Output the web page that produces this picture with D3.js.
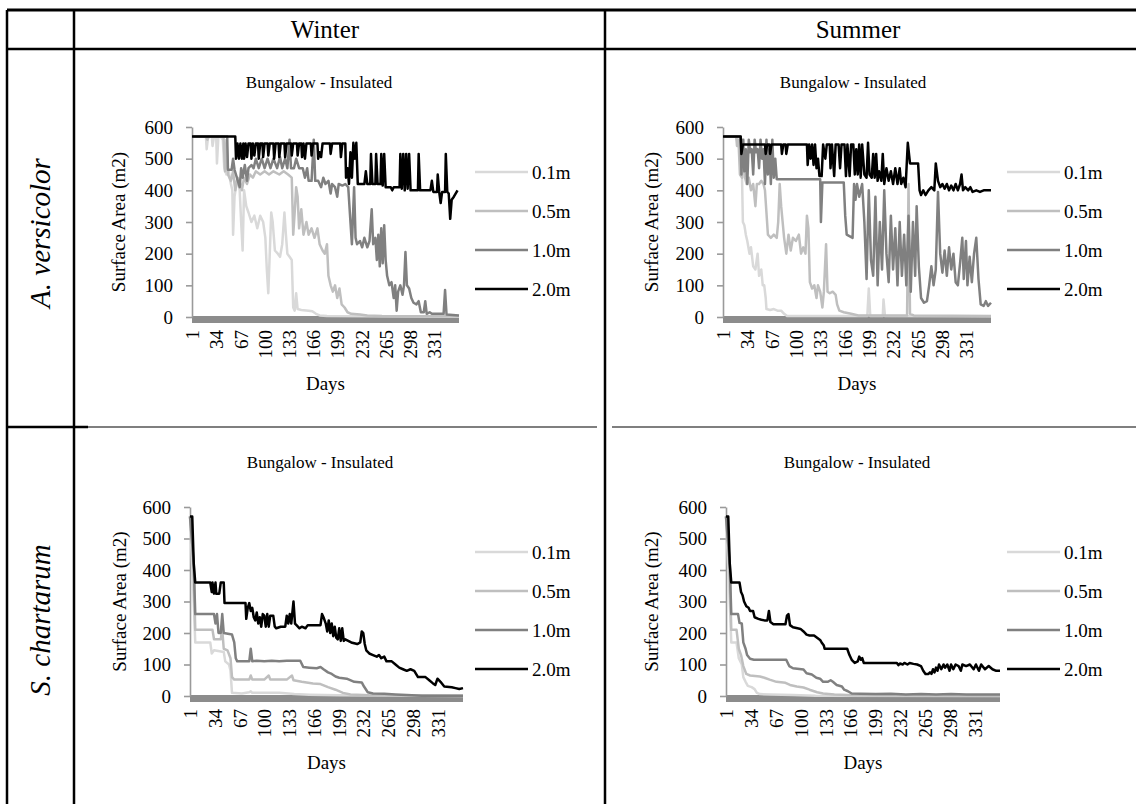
<!DOCTYPE html>
<html>
<head>
<meta charset="utf-8">
<script src="https://cdn.jsdelivr.net/npm/d3@7/dist/d3.min.js"></script>
<style>
  body { margin: 0; background: #fff; }
  svg { display: block; }
</style>
</head>
<body>
<div id="chart"></div>
<script>
// ---------------- data ----------------
const seasons = ["Winter", "Summer"];
const species = ["A. versicolor", "S. chartarum"];
const depths = ["0.1m", "0.5m", "1.0m", "2.0m"];
const chartTitle = "Bungalow - Insulated";
const yTicks = [0, 100, 200, 300, 400, 500, 600];
const dayTicks = [1, 34, 67, 100, 133, 166, 199, 232, 265, 298, 331];
const dayCount = 365;

// [day, surface area m2]
const winterVersicolor01 = [[1,570],[20,570],[21,530],[23,570],[28,570],[29,540],[31,570],[34,570],[35,485],[37,570],[40,570],[43,560],[45,470],[48,450],[51,460],[54,420],[56,400],[57,260],[59,380],[63,440],[66,400],[68,300],[70,210],[72,400],[75,350],[78,330],[82,300],[86,320],[90,280],[94,320],[98,300],[101,250],[103,150],[105,75],[107,200],[109,330],[111,300],[114,210],[118,200],[121,190],[124,230],[127,330],[129,260],[131,200],[134,190],[137,180],[139,30],[141,20],[143,75],[145,25],[150,22],[160,20],[165,18],[170,10],[175,5],[185,3],[365,1]];
const winterVersicolor05 = [[1,570],[20,570],[22,560],[24,570],[44,570],[46,460],[48,560],[50,450],[54,430],[57,460],[60,400],[63,440],[66,430],[69,400],[72,440],[76,420],[80,450],[84,440],[88,460],[94,450],[100,460],[106,450],[112,460],[120,450],[126,460],[132,450],[137,440],[139,260],[141,330],[143,410],[145,380],[147,280],[150,340],[153,260],[157,300],[160,260],[164,280],[168,250],[172,280],[175,230],[179,210],[182,200],[185,230],[187,130],[190,100],[193,80],[196,100],[199,60],[202,90],[205,40],[209,30],[213,15],[218,10],[230,8],[240,5],[260,3],[365,2]];
const winterVersicolor10 = [[1,570],[49,570],[50,465],[55,465],[57,500],[59,465],[66,410],[68,470],[70,440],[73,480],[76,430],[78,470],[82,480],[85,470],[88,500],[92,470],[96,500],[100,470],[104,500],[108,470],[112,500],[117,470],[121,505],[124,470],[128,500],[131,470],[134,560],[136,470],[140,470],[143,500],[147,470],[152,470],[155,440],[158,470],[160,430],[164,430],[167,560],[169,430],[173,430],[177,410],[180,440],[183,420],[187,430],[190,390],[192,420],[196,410],[199,380],[201,420],[206,415],[210,420],[214,410],[217,300],[219,230],[222,410],[224,250],[226,230],[230,240],[233,220],[236,250],[240,220],[243,240],[246,340],[248,230],[251,250],[253,180],[255,260],[257,160],[259,280],[261,170],[263,290],[265,180],[267,130],[270,100],[273,110],[276,60],[278,100],[280,20],[282,80],[285,100],[288,70],[290,100],[292,205],[294,100],[297,90],[300,60],[303,45],[307,40],[310,50],[313,15],[317,15],[319,50],[321,10],[325,15],[328,10],[344,10],[346,85],[348,8],[365,5]];
const winterVersicolor20 = [[1,570],[60,570],[61,500],[63,548],[65,500],[67,548],[69,500],[71,548],[72,500],[74,548],[76,505],[78,548],[81,548],[82,500],[84,548],[86,510],[88,548],[91,548],[92,500],[94,548],[97,548],[98,505],[100,548],[104,548],[105,510],[107,548],[112,548],[113,500],[115,548],[119,548],[120,505],[122,548],[127,548],[128,505],[130,548],[136,548],[137,510],[139,548],[144,548],[145,510],[147,548],[150,548],[151,505],[153,548],[155,500],[157,548],[163,548],[164,510],[166,548],[172,548],[173,500],[175,520],[177,505],[179,548],[189,548],[190,515],[192,548],[203,548],[204,505],[206,548],[210,548],[211,440],[213,470],[215,420],[217,520],[219,440],[221,550],[223,500],[225,550],[227,420],[236,420],[238,460],[240,420],[244,420],[245,515],[247,420],[251,420],[252,515],[254,420],[258,420],[259,515],[261,415],[263,515],[265,410],[272,410],[274,400],[276,410],[284,410],[285,515],[287,405],[289,515],[291,400],[293,515],[295,405],[297,515],[299,400],[309,400],[310,515],[312,400],[326,400],[328,430],[330,395],[335,395],[336,450],[338,395],[340,360],[342,395],[346,395],[347,515],[349,395],[351,390],[353,310],[355,370],[358,380],[363,400]];

const summerVersicolor01 = [[1,570],[19,570],[21,545],[23,560],[26,540],[28,300],[30,290],[32,260],[34,240],[37,200],[39,220],[42,160],[45,150],[48,200],[50,130],[53,150],[55,100],[57,100],[59,60],[60,25],[65,22],[70,25],[75,20],[80,20],[84,10],[88,3],[197,3],[199,90],[201,3],[218,3],[219,55],[221,3],[365,2]];
const summerVersicolor05 = [[1,570],[19,570],[20,540],[22,560],[24,450],[27,440],[29,560],[31,440],[33,420],[36,440],[39,400],[42,420],[45,350],[47,420],[50,420],[53,430],[56,420],[58,400],[60,330],[62,260],[66,250],[70,260],[74,250],[76,300],[78,420],[80,350],[82,300],[84,250],[87,200],[90,260],[93,210],[96,250],[100,240],[104,260],[107,200],[110,220],[113,200],[115,320],[117,280],[119,110],[122,90],[125,100],[128,60],[130,100],[133,80],[136,30],[138,80],[141,230],[143,80],[146,75],[150,80],[154,70],[156,40],[159,20],[165,15],[175,10],[185,5],[251,5],[253,420],[255,10],[260,5],[365,3]];
const summerVersicolor10 = [[1,570],[25,570],[26,450],[28,560],[30,460],[32,530],[34,420],[36,560],[38,520],[40,530],[42,450],[44,560],[46,520],[48,530],[50,470],[52,560],[54,500],[56,530],[58,420],[60,560],[62,450],[64,530],[66,420],[68,560],[70,440],[72,500],[74,435],[133,435],[134,300],[136,425],[165,425],[167,320],[169,260],[177,250],[179,420],[181,370],[183,420],[186,380],[190,420],[193,300],[196,120],[199,400],[202,180],[205,130],[208,380],[211,100],[214,300],[217,150],[220,400],[223,200],[226,110],[229,320],[232,150],[235,280],[238,100],[241,300],[244,130],[247,260],[250,100],[253,320],[256,80],[259,300],[262,130],[264,350],[267,160],[270,60],[274,45],[278,50],[281,100],[284,160],[287,100],[290,150],[293,395],[296,200],[299,140],[302,210],[305,130],[308,220],[311,150],[314,200],[317,110],[320,100],[323,170],[326,250],[328,120],[331,240],[333,100],[336,190],[339,110],[342,200],[345,250],[348,120],[351,40],[355,35],[358,50],[361,35],[365,45]];
const summerVersicolor20 = [[1,570],[25,570],[26,515],[28,545],[58,545],[59,515],[61,545],[64,545],[65,515],[67,545],[80,545],[81,515],[83,545],[86,545],[87,515],[89,545],[115,545],[116,480],[118,545],[120,500],[122,545],[124,480],[126,545],[128,470],[130,500],[132,445],[135,445],[137,545],[140,500],[142,545],[146,545],[147,470],[149,545],[152,445],[154,545],[158,545],[160,470],[162,545],[166,545],[168,445],[170,545],[173,445],[175,545],[178,545],[180,450],[182,530],[184,450],[186,545],[188,440],[190,545],[193,450],[196,440],[198,550],[200,450],[203,440],[205,515],[207,440],[209,515],[211,430],[213,460],[216,430],[218,515],[220,420],[223,470],[226,430],[229,460],[232,420],[235,470],[238,420],[241,470],[243,420],[246,440],[249,410],[252,550],[255,485],[266,485],[268,400],[270,385],[273,400],[276,385],[280,400],[284,410],[288,400],[290,485],[293,430],[296,410],[299,420],[302,405],[305,420],[308,400],[311,415],[314,400],[317,420],[320,400],[323,420],[325,450],[327,400],[330,410],[334,400],[337,410],[340,395],[345,400],[350,395],[355,400],[365,400]];

const winterChartarum01 = [[1,570],[6,300],[8,170],[28,170],[30,135],[33,145],[46,140],[48,110],[53,100],[55,80],[57,10],[70,8],[80,12],[82,15],[84,10],[120,10],[140,6],[160,4],[200,2],[365,0]];
const winterChartarum05 = [[1,570],[6,400],[8,210],[31,210],[33,180],[42,180],[44,210],[46,150],[51,145],[55,120],[57,60],[60,52],[80,52],[82,65],[84,52],[100,52],[106,65],[108,52],[130,52],[137,65],[139,50],[150,45],[165,40],[175,38],[185,28],[195,20],[205,10],[215,5],[240,2],[365,1]];
const winterChartarum10 = [[1,570],[6,420],[8,260],[33,260],[35,230],[37,260],[39,200],[42,200],[44,260],[46,200],[57,195],[60,170],[62,120],[64,110],[80,110],[82,150],[84,110],[90,112],[100,110],[110,112],[120,110],[130,112],[148,112],[152,92],[160,90],[170,88],[175,92],[179,85],[185,75],[190,70],[195,62],[200,58],[210,55],[220,45],[230,43],[233,30],[238,12],[245,8],[260,7],[275,5],[290,3],[310,1],[365,1]];
const winterChartarum20 = [[1,570],[4,570],[6,420],[8,360],[28,360],[30,330],[31,360],[33,325],[35,360],[36,325],[40,325],[42,360],[46,360],[47,295],[75,295],[76,245],[78,280],[80,295],[82,270],[84,280],[86,250],[88,240],[90,265],[92,230],[94,250],[96,220],[98,260],[100,255],[102,220],[104,260],[106,220],[108,255],[112,255],[114,220],[116,215],[122,220],[128,220],[130,255],[132,230],[134,260],[136,230],[139,300],[141,230],[143,225],[147,215],[150,220],[155,215],[158,225],[175,225],[177,260],[179,250],[182,230],[184,205],[186,240],[188,200],[190,230],[192,190],[194,220],[196,185],[198,180],[200,215],[202,175],[204,215],[206,175],[208,180],[212,175],[216,170],[224,165],[228,170],[230,205],[232,200],[234,165],[236,145],[240,135],[245,130],[250,125],[253,130],[256,120],[260,125],[263,110],[270,110],[275,100],[280,90],[285,85],[290,80],[295,85],[300,80],[305,60],[315,60],[320,50],[325,40],[328,35],[331,55],[335,45],[340,30],[350,28],[355,25],[360,22],[365,25]];

const summerChartarum01 = [[1,570],[6,300],[8,170],[15,170],[18,120],[22,100],[24,60],[27,45],[30,32],[35,28],[39,22],[42,10],[46,6],[60,5],[90,3],[120,1],[365,0]];
const summerChartarum05 = [[1,570],[6,400],[8,210],[15,210],[18,150],[21,130],[24,95],[28,70],[33,65],[46,62],[52,58],[59,52],[68,45],[80,42],[86,35],[95,30],[104,27],[112,20],[122,12],[130,8],[145,5],[170,2],[365,1]];
const summerChartarum10 = [[1,570],[6,420],[8,260],[17,260],[19,232],[22,230],[24,170],[27,150],[29,130],[33,118],[38,115],[81,115],[85,95],[90,88],[104,84],[108,72],[115,68],[121,58],[126,55],[130,45],[136,45],[140,50],[143,45],[148,35],[155,30],[158,20],[163,15],[168,8],[180,7],[200,6],[220,7],[240,5],[260,6],[280,5],[300,6],[320,5],[365,5]];
const summerChartarum20 = [[1,570],[4,570],[6,420],[8,360],[19,360],[21,330],[23,320],[25,300],[28,285],[31,280],[33,270],[37,270],[39,250],[44,245],[48,242],[52,240],[56,240],[58,270],[60,235],[64,228],[72,228],[80,228],[82,255],[84,260],[86,225],[90,218],[96,215],[100,213],[104,205],[108,195],[112,192],[118,192],[122,185],[126,178],[128,170],[131,160],[132,150],[162,150],[165,130],[168,115],[172,105],[176,110],[178,125],[180,115],[182,120],[184,105],[200,105],[215,105],[228,105],[230,98],[232,103],[236,100],[238,105],[242,100],[245,105],[250,102],[255,100],[260,95],[263,80],[266,70],[270,70],[272,75],[274,70],[276,85],[278,75],[280,90],[282,80],[284,100],[287,85],[290,100],[292,90],[295,100],[298,80],[300,100],[303,85],[306,100],[310,95],[313,80],[315,100],[320,95],[325,100],[330,85],[333,100],[337,80],[340,100],[345,85],[350,95],[355,85],[360,80],[365,80]];

const panels = [
  { season: 0, species: 0, series: [winterVersicolor01, winterVersicolor05, winterVersicolor10, winterVersicolor20] },
  { season: 1, species: 0, series: [summerVersicolor01, summerVersicolor05, summerVersicolor10, summerVersicolor20] },
  { season: 0, species: 1, series: [winterChartarum01, winterChartarum05, winterChartarum10, winterChartarum20] },
  { season: 1, species: 1, series: [summerChartarum01, summerChartarum05, summerChartarum10, summerChartarum20] }
];

// ---------------- layout / styles ----------------
const attrs = {
  width: 1136,
  height: 804,
  font: "'Liberation Serif', 'Times New Roman', serif",
  depthColors: ["#d9d9d9", "#bfbfbf", "#808080", "#000000"],
  axisColor: "#9a9a9a",
  baseColor: "#8c8c8c",
  tickFont: 19,
  // plot boxes in page pixels, one per panel
  boxes: [
    { x0: 192, x1: 459, top: 127, bottom: 317, titleX: 319, legendX: 475, labelX: 118 },
    { x0: 723, x1: 991, top: 127, bottom: 317, titleX: 853, legendX: 1007, labelX: 651 },
    { x0: 190, x1: 463, top: 507, bottom: 696, titleX: 320, legendX: 475, labelX: 119 },
    { x0: 726, x1: 1000, top: 507, bottom: 696, titleX: 857, legendX: 1007, labelX: 651 }
  ],
  headerX: [325, 858],
  rowLabelY: [233, 620]
};

const svg = d3.select("#chart")
  .append("svg")
  .attr("width", attrs.width)
  .attr("height", attrs.height)
  .attr("font-family", attrs.font);

// ---------------- table grid ----------------
const grid = svg.append("g").attr("stroke", "#000").attr("fill", "none");
const gridLines = [
  { x1: 7, y1: 10, x2: 1136, y2: 10, w: 2.8 },
  { x1: 7, y1: 49, x2: 1136, y2: 49, w: 2.5 },
  { x1: 7, y1: 427, x2: 88, y2: 427, w: 2.5 },
  { x1: 88, y1: 427, x2: 597, y2: 427, w: 1.2 },
  { x1: 612, y1: 427, x2: 1136, y2: 427, w: 1.2 },
  { x1: 7, y1: 10, x2: 7, y2: 804, w: 2.5 },
  { x1: 74, y1: 10, x2: 74, y2: 804, w: 2.5 },
  { x1: 605, y1: 10, x2: 605, y2: 804, w: 2.5 }
];
grid.selectAll("line").data(gridLines).join("line")
  .attr("x1", d => d.x1).attr("y1", d => d.y1)
  .attr("x2", d => d.x2).attr("y2", d => d.y2)
  .attr("stroke-width", d => d.w);

// column headers
svg.selectAll(".header").data(seasons).join("text")
  .attr("class", "header")
  .attr("x", (d, i) => attrs.headerX[i])
  .attr("y", 38)
  .attr("text-anchor", "middle")
  .attr("font-size", 25)
  .text(d => d);

// row labels
svg.selectAll(".row-label").data(species).join("text")
  .attr("class", "row-label")
  .attr("transform", (d, i) => `translate(40,${attrs.rowLabelY[i]}) rotate(-90)`)
  .attr("text-anchor", "middle")
  .attr("dominant-baseline", "central")
  .attr("font-size", 29)
  .attr("font-style", "italic")
  .text(d => d);

// ---------------- charts ----------------
panels.forEach((p, i) => drawPanel(p, attrs.boxes[i]));

function drawPanel(p, box) {
  const g = svg.append("g").attr("class", "panel");

  const x = d3.scaleLinear().domain([1, dayCount]).range([box.x0, box.x1]);
  const y = d3.scaleLinear().domain([0, 600]).range([box.bottom, box.top]);

  // thick grey category axis under the zero line
  g.append("line")
    .attr("x1", x(1)).attr("x2", x(dayCount))
    .attr("y1", y(0) + 2.5).attr("y2", y(0) + 2.5)
    .attr("stroke", attrs.baseColor)
    .attr("stroke-width", 7);

  // y axis
  const yAxis = g.append("g")
    .attr("transform", `translate(${x(1)},0)`)
    .call(d3.axisLeft(y).tickValues(yTicks).tickSize(6).tickSizeOuter(0).tickPadding(13))
    .attr("font-family", attrs.font)
    .attr("font-size", attrs.tickFont);
  yAxis.select(".domain").attr("stroke", attrs.axisColor).attr("stroke-width", 1.6);
  yAxis.selectAll(".tick line").attr("stroke", attrs.axisColor).attr("stroke-width", 1.6);
  yAxis.selectAll(".tick text").attr("fill", "#000");

  // x axis, labels turned upright
  const xAxis = g.append("g")
    .attr("transform", `translate(0,${y(0)})`)
    .call(d3.axisBottom(x).tickValues(dayTicks).tickSize(0))
    .attr("font-family", attrs.font)
    .attr("font-size", attrs.tickFont);
  xAxis.select(".domain").remove();
  xAxis.selectAll(".tick text")
    .attr("fill", "#000")
    .attr("transform", "rotate(-90)")
    .attr("text-anchor", "end")
    .attr("x", -13)
    .attr("y", 0)
    .attr("dy", "0.35em");

  // series
  const line = d3.line().x(d => x(d[0])).y(d => y(d[1]));
  g.selectAll(".series").data(p.series).join("path")
    .attr("class", "series")
    .attr("d", line)
    .attr("fill", "none")
    .attr("stroke", (d, i) => attrs.depthColors[i])
    .attr("stroke-width", 2.5)
    .attr("stroke-linejoin", "round");

  // title
  g.append("text")
    .attr("x", box.titleX)
    .attr("y", box.top - 45)
    .attr("text-anchor", "middle")
    .attr("dominant-baseline", "central")
    .attr("font-size", 17)
    .text(chartTitle);

  // axis titles
  g.append("text")
    .attr("x", (box.x0 + box.x1) / 2)
    .attr("y", box.bottom + 66)
    .attr("text-anchor", "middle")
    .attr("dominant-baseline", "central")
    .attr("font-size", 19)
    .text("Days");

  g.append("text")
    .attr("transform", `translate(${box.labelX},${(box.top + box.bottom) / 2}) rotate(-90)`)
    .attr("text-anchor", "middle")
    .attr("dominant-baseline", "central")
    .attr("font-size", 19)
    .text("Surface Area (m2)");

  // legend
  const ly = d3.scalePoint().domain(depths).range([box.top + 45, box.top + 162]);
  const legend = g.selectAll(".legend").data(depths).join("g")
    .attr("class", "legend")
    .attr("transform", d => `translate(${box.legendX},${ly(d)})`);
  legend.append("line")
    .attr("x1", 0).attr("x2", 53)
    .attr("stroke", (d, i) => attrs.depthColors[i])
    .attr("stroke-width", 2.5);
  legend.append("text")
    .attr("x", 57)
    .attr("dominant-baseline", "central")
    .attr("font-size", 19)
    .text(d => d);
}
</script>
</body>
</html>
